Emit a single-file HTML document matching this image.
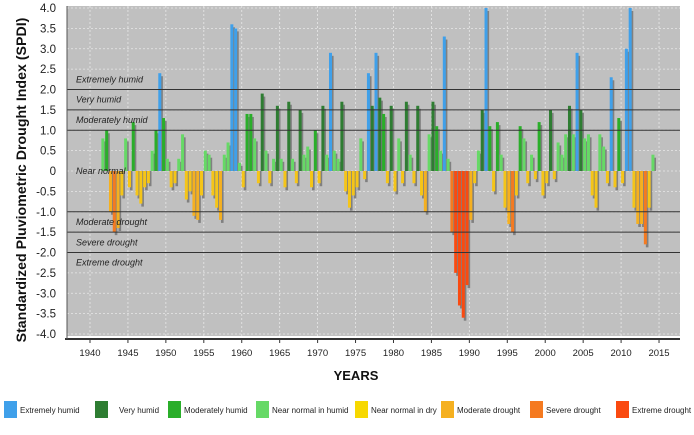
<!DOCTYPE html>
<html><head><meta charset="utf-8"><style>
body{margin:0;background:#fff;width:694px;height:430px;overflow:hidden;font-family:"Liberation Sans",Arial,sans-serif}
</style></head><body>
<svg id="chart" width="694" height="430" xmlns="http://www.w3.org/2000/svg" font-family="Liberation Sans, Arial, sans-serif">
<g id="plot"></g>
<g id="legend"></g>
</svg>
<script>
const startYear = 1941.5;
const spdiValues = [0.8,1.0,-1.0,-1.5,-1.4,-0.6,0.8,-0.4,1.2,-0.6,-0.8,-0.4,-0.3,0.5,1.0,2.4,1.3,0.3,-0.4,-0.3,0.3,0.9,-0.7,-0.5,-1.1,-1.2,-0.6,0.5,0.4,-0.6,-0.9,-1.2,0.4,0.7,3.6,3.5,0.2,-0.4,1.4,1.4,0.8,-0.3,1.9,0.5,-0.3,0.3,1.6,0.3,-0.4,1.7,0.3,-0.3,1.5,0.4,0.6,-0.4,1.0,-0.3,1.6,0.4,2.9,0.5,0.3,1.7,-0.5,-0.9,-0.6,-0.4,0.8,-0.2,2.4,1.6,2.9,1.8,1.4,-0.3,1.6,-0.5,0.8,-0.3,1.7,0.4,-0.3,1.6,-0.6,-1.0,0.9,1.7,1.1,0.5,3.3,0.3,-1.5,-2.5,-3.3,-3.6,-2.8,-1.2,-0.3,0.5,1.5,4.0,1.1,-0.5,1.2,0.4,-0.9,-1.3,-1.5,-0.6,1.1,0.8,-0.3,0.4,-0.2,1.2,-0.6,-0.3,1.5,-0.2,0.7,0.4,0.9,1.6,0.9,2.9,1.5,0.8,0.9,-0.6,-0.9,0.9,0.6,-0.3,2.3,-0.4,1.3,-0.3,3.0,4.0,-0.9,-1.3,-1.3,-1.8,-0.9,0.4];
const yTicks = [4.0,3.5,3.0,2.5,2.0,1.5,1.0,0.5,0,-0.5,-1.0,-1.5,-2.0,-2.5,-3.0,-3.5,-4.0];
const xTicks = [1940,1945,1950,1955,1960,1965,1970,1975,1980,1985,1990,1995,2000,2005,2010,2015];
const classLabels = ["Extremely humid","Very humid","Moderately humid","Near normal","Moderate drought","Severe drought","Extreme drought"];
const classValues = [2.25,1.75,1.25,0,-1.25,-1.75,-2.25];
const legendLabels = ["Extremely humid","Very humid","Moderately humid","Near normal in humid","Near normal in dry","Moderate drought","Severe drought","Extreme drought"];
const legendColors = ["#3fa0ea","#2e7d32","#2aae2a","#66d966","#f7d800","#f5b020","#f57a20","#fa4a10"];
const thresholds = [2,1.5,1,-1,-1.5,-2];

const NS="http://www.w3.org/2000/svg";
const L=67,R=680,T=8,B=334;
const y=v=>171-v*40.75;
const x=yr=>90+(yr-1940)*7.587;
const plot=document.getElementById('plot');
function mk(tag,attrs,parent){const e=document.createElementNS(NS,tag);for(const k in attrs)e.setAttribute(k,attrs[k]);(parent||plot).appendChild(e);return e;}
function color(v){if(v>=2)return legendColors[0];if(v>=1.5)return legendColors[1];if(v>=1)return legendColors[2];if(v>=0)return legendColors[3];if(v>-1)return "#f5c518";if(v>-1.5)return legendColors[5];if(v>-2)return legendColors[6];return legendColors[7];}

let bg=mk('rect',{x:L,y:T-2,width:R-L,height:B-T+4,fill:'#c0c0c0'});


yTicks.forEach(v=>{
  let g=mk('line',{x1:L,x2:R,y1:y(v),y2:y(v),stroke:'#e8e8e8','stroke-dasharray':'2,2','stroke-width':0.8});
  
  
  let t=mk('text',{x:56,y:y(v)+4,'text-anchor':'end','font-size':11.5,fill:'#222'});
  t.textContent=v===0?'0':v.toFixed(1);
  
  
});
xTicks.forEach(yr=>{
  let g=mk('line',{x1:x(yr),x2:x(yr),y1:T-2,y2:B+2,stroke:'#e8e8e8','stroke-dasharray':'2,2','stroke-width':0.8});
  
  
  let t=mk('text',{x:x(yr),y:356,'text-anchor':'middle','font-size':9.5,fill:'#222'});
  t.textContent=yr;
  
  
  let tk=mk('line',{x1:x(yr),x2:x(yr),y1:339,y2:343,stroke:'#333'});
  
  
});
const bw=3.8;
spdiValues.forEach((v,i)=>{
  const xx=x(startYear+i*0.5);
  let s=mk('rect',{x:xx+2,y:Math.min(y(v)+3,171),width:bw-1.2,height:Math.max(Math.abs(y(v)-171)-(v>0?3:-3),0),fill:'#808080'});
  
  
});
spdiValues.forEach((v,i)=>{
  const xx=x(startYear+i*0.5);
  let b=mk('rect',{x:xx,y:Math.min(y(v),171),width:bw-0.8,height:Math.abs(y(v)-171),fill:color(v)});
  
  
});
thresholds.forEach(v=>{
  let l=mk('line',{x1:L,x2:R,y1:y(v),y2:y(v),stroke:'#333','stroke-width':1});
  
  
});
classLabels.forEach((s,i)=>{
  let t=mk('text',{x:76,y:y(classValues[i])+3,'font-size':9,'font-style':'italic',fill:'#222'});
  t.textContent=s;
  
  
});
let ax=mk('line',{x1:L-2,x2:R,y1:339,y2:339,stroke:'#333','stroke-width':2});


let ay=mk('line',{x1:L,x2:L,y1:T-2,y2:339,stroke:'#555','stroke-width':1});


let xt=mk('text',{x:356,y:380,'text-anchor':'middle','font-size':13,'font-weight':'bold',fill:'#111'});
xt.textContent='YEARS';


let yt=mk('text',{x:0,y:0,'text-anchor':'middle','font-size':14.2,'font-weight':'bold',fill:'#111',transform:'translate(26,180) rotate(-90)'});
yt.textContent='Standardized Pluviometric Drought Index (SPDI)';



const lg=document.getElementById('legend');
const lx=[4,95,168,256,355,441,530,616];
legendLabels.forEach((s,i)=>{
  let r=mk('rect',{x:lx[i],y:401,width:13,height:17,fill:legendColors[i]},lg);
  
  
  let t=mk('text',{x:lx[i]+(i===1?24:16),y:413,'font-size':8,fill:'#222'},lg);
  t.textContent=s;
  
  
});
</script>
</body></html>
